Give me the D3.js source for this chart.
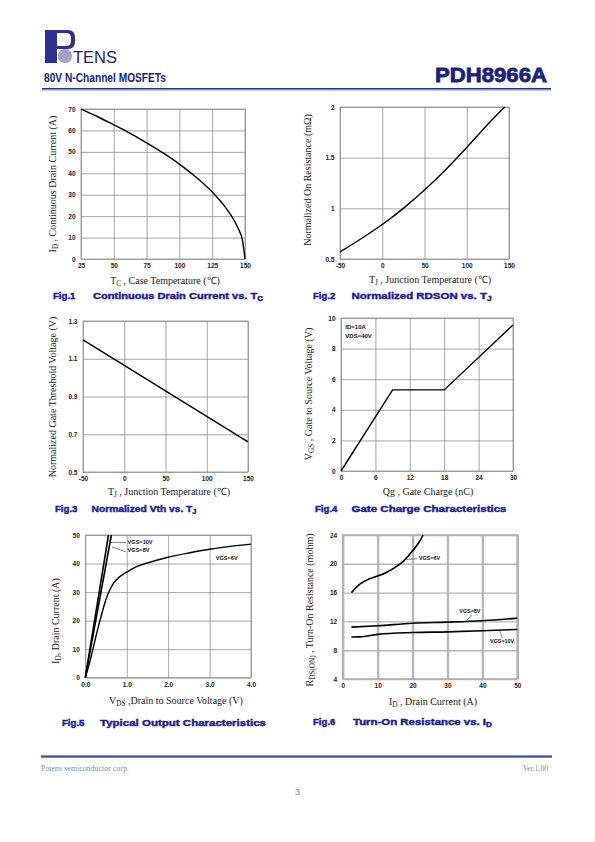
<!DOCTYPE html>
<html><head><meta charset="utf-8">
<script src="https://cdn.jsdelivr.net/npm/d3@7"></script>
<style>
html,body{margin:0;padding:0;background:#fff;}
svg{display:block;}
</style></head>
<body>
<svg id="page" width="595" height="842"></svg>
<script>
// ---------- DATA ----------
// Fig.1 Continuous Drain Current vs. Tc
const fig1Temp = [25, 37.5, 50, 62.5, 75, 87.5, 100, 112.5, 125, 135, 140, 145, 148, 150];
const fig1Id   = [70, 66.5, 62.6, 58.6, 54.2, 49.5, 44.3, 38.3, 31.3, 24.2, 19.8, 14, 8.9, 0];
const fig1XTicks = [25, 50, 75, 100, 125, 150];
const fig1YTicks = [0, 10, 20, 30, 40, 50, 60, 70];

// Fig.2 Normalized RDSON vs. Tj
const fig2Temp = [-50, -25, 0, 25, 50, 75, 100, 125, 145];
const fig2R    = [0.57, 0.70, 0.84, 1.0, 1.18, 1.38, 1.60, 1.83, 2.0];
const fig2XTicks = [-50, 0, 50, 100, 150];
const fig2YTicks = [0.5, 1, 1.5, 2];

// Fig.3 Normalized Vth vs. Tj
const fig3Temp = [-50, 0, 50, 100, 150];
const fig3Vth  = [1.2, 1.065, 0.93, 0.795, 0.66];
const fig3XTicks = [-50, 0, 50, 100, 150];
const fig3YTicks = [0.5, 0.7, 0.9, 1.1, 1.3];

// Fig.4 Gate Charge
const fig4Qg  = [0, 9, 18, 30];
const fig4Vgs = [0, 5.3, 5.3, 9.55];
const fig4XTicks = [0, 6, 12, 18, 24, 30];
const fig4YTicks = [0, 2, 4, 6, 8, 10];
const fig4Notes = ["ID=10A", "VDS=40V"];

// Fig.5 Typical Output Characteristics
const fig5Vds6  = [0, 0.1, 0.2, 0.3, 0.4, 0.5, 0.6, 0.7, 0.8, 1.0, 1.25, 1.5, 2.0, 2.5, 3.0, 3.5, 4.0];
const fig5Id6   = [0, 5, 11, 17, 22.5, 27.5, 31, 33.5, 35, 37, 39, 40.2, 42.2, 43.7, 45, 46, 46.8];
const fig5Vds8  = [0, 0.63];
const fig5Id8   = [0, 50];
const fig5Vds10 = [0, 0.56];
const fig5Id10  = [0, 50];
const fig5XTicks = [0, 1, 2, 3, 4];
const fig5YTicks = [0, 10, 20, 30, 40, 50];

// Fig.6 Turn-On Resistance vs. ID
const fig6Id6  = [2.5, 5, 7.5, 10, 12.5, 15, 17.5, 20, 22, 23];
const fig6R6   = [16, 17.2, 17.9, 18.3, 18.8, 19.5, 20.4, 21.8, 23.1, 24];
const fig6Id8  = [2.5, 10, 20, 30, 40, 50];
const fig6R8   = [11.2, 11.4, 11.75, 11.9, 12.1, 12.45];
const fig6Id10 = [2.5, 5, 10, 20, 30, 40, 50];
const fig6R10  = [9.83, 9.85, 10.2, 10.45, 10.55, 10.7, 10.88];
const fig6XTicks = [0, 10, 20, 30, 40, 50];
const fig6YTicks = [4, 8, 12, 16, 20, 24];

// ---------- DRAWING ----------
const svg = d3.select("#page");
svg.append("rect").attr("width", 595).attr("height", 842).attr("fill", "#fff");

const NAVY = "#1b1f7e";
const CAP = "#1a1a9c";
const SERIF = "'Liberation Serif','Times New Roman',serif";
const SANS = "'Liberation Sans',Arial,sans-serif";

// Header
const logo = svg.append("g");
logo.append("rect").attr("x", 45).attr("y", 30).attr("width", 12).attr("height", 33).attr("fill", "#2e3192");
logo.append("path").attr("d", "M57,30 H68 Q75,30 75,38 V41 Q75,49 68,49 H57 V46 H66 Q71,46 71,41 V38 Q71,33 66,33 H57 Z").attr("fill", "#2e3192");
logo.append("circle").attr("cx", 65).attr("cy", 56).attr("r", 7).attr("fill", "#6a6aa0");
for (let i = -6; i <= 6; i += 2) {
  const h = Math.sqrt(49 - i * i);
  logo.append("line").attr("x1", 65 + i).attr("x2", 65 + i).attr("y1", 56 - h).attr("y2", 56 + h).attr("stroke", "#d8d8e8").attr("stroke-width", 0.6);
  logo.append("line").attr("y1", 56 + i).attr("y2", 56 + i).attr("x1", 65 - h).attr("x2", 65 + h).attr("stroke", "#d8d8e8").attr("stroke-width", 0.6);
}
logo.append("text").attr("x", 73).attr("y", 63).attr("font-family", SANS).attr("font-size", 17)
  .attr("fill", "#1d1d6e").attr("textLength", 44).attr("lengthAdjust", "spacingAndGlyphs").text("TENS");

svg.append("text").attr("x", 44).attr("y", 81.5).attr("font-family", SANS).attr("font-weight", "bold")
  .attr("font-size", 12.5).attr("fill", NAVY).attr("textLength", 122).attr("lengthAdjust", "spacingAndGlyphs")
  .text("80V N-Channel MOSFETs");
svg.append("text").attr("x", 435).attr("y", 82.3).attr("font-family", SANS).attr("font-weight", "900")
  .attr("font-size", 20).attr("fill", NAVY).attr("stroke", NAVY).attr("stroke-width", 0.8)
  .attr("textLength", 112).attr("lengthAdjust", "spacingAndGlyphs").text("PDH8966A");
svg.append("rect").attr("x", 42).attr("y", 88).attr("width", 509).attr("height", 1.4).attr("fill", "#1f2f8f");
svg.append("rect").attr("x", 42).attr("y", 89.4).attr("width", 509).attr("height", 1).attr("fill", "#6d7fc4");

// Footer
svg.append("rect").attr("x", 41).attr("y", 755.5).attr("width", 511).attr("height", 1.4).attr("fill", "#1f2f8f");
svg.append("rect").attr("x", 41).attr("y", 756.9).attr("width", 511).attr("height", 1).attr("fill", "#6d7fc4");
svg.append("text").attr("x", 41).attr("y", 771).attr("font-family", SERIF).attr("font-size", 7.6).attr("fill", "#888")
  .attr("textLength", 88).attr("lengthAdjust", "spacing").text("Potens semiconductor corp.");
svg.append("text").attr("x", 548).attr("y", 771).attr("text-anchor", "end").attr("font-family", SERIF).attr("font-size", 7.6).attr("fill", "#888").text("Ver.1.00");
svg.append("text").attr("x", 297.5).attr("y", 795).attr("text-anchor", "middle").attr("font-family", SANS).attr("font-size", 9).attr("fill", "#888").text("3");

function addText(sel, parts, size) {
  // parts: [text, isSub]
  let shift = 0;
  parts.forEach(p => {
    const t = sel.append("tspan").text(p[0]);
    if (p[1]) { t.attr("font-size", size * 0.72).attr("dy", 2 - shift); shift = 2; }
    else { t.attr("dy", -shift); shift = 0; }
  });
}

function chart(o) {
  const g = svg.append("g");
  const x = d3.scaleLinear().domain(o.xDomain).range([o.x0, o.x1]);
  const y = d3.scaleLinear().domain(o.yDomain).range([o.y1, o.y0]);
  const gw = o.gridWidth || 0.8, gc = o.gridColor || "#8f8f8f";
  const vgw = o.vGridWidth || gw, vgc = o.vGridColor || gc;

  const xa = g.append("g").attr("transform", `translate(0,${o.y1})`)
    .call(d3.axisBottom(x).tickValues(o.xTicks).tickSize(-(o.y1 - o.y0)).tickPadding(4.3).tickFormat(o.xFmt || (d => d)));
  xa.select(".domain").remove();
  xa.selectAll("line").attr("stroke", vgc).attr("stroke-width", vgw);
  xa.selectAll("text").attr("font-family", SANS).attr("font-weight", "bold").attr("font-size", 6.5).attr("fill", "#222");

  const ya = g.append("g").attr("transform", `translate(${o.x0},0)`)
    .call(d3.axisLeft(y).tickValues(o.yTicks).tickSize(-(o.x1 - o.x0)).tickPadding(5.5).tickFormat(o.yFmt || (d => d)));
  ya.select(".domain").remove();
  ya.selectAll("line").attr("stroke", gc).attr("stroke-width", gw);
  ya.selectAll("text").attr("font-family", SANS).attr("font-weight", "bold").attr("font-size", 6.5).attr("fill", "#222");

  g.append("rect").attr("x", o.x0).attr("y", o.y0).attr("width", o.x1 - o.x0).attr("height", o.y1 - o.y0)
    .attr("fill", "none").attr("stroke", o.borderColor || gc).attr("stroke-width", o.borderWidth || gw);

  const clipId = "clip" + Math.round(o.x0) + "_" + Math.round(o.y0);
  svg.append("clipPath").attr("id", clipId).append("rect")
    .attr("x", o.x0 - 1).attr("y", o.y0 - 0.5).attr("width", o.x1 - o.x0 + 2).attr("height", o.y1 - o.y0 + 1);

  o.series.forEach(s => {
    const pts = s.x.map((v, i) => [v, s.y[i]]);
    const line = d3.line().x(d => x(d[0])).y(d => y(d[1])).curve(s.smooth ? d3.curveMonotoneX : d3.curveLinear);
    g.append("path").attr("d", line(pts)).attr("fill", "none").attr("stroke", "#000")
      .attr("stroke-width", s.width || 1.4).attr("clip-path", `url(#${clipId})`);
  });

  (o.notes || []).forEach(n => {
    g.append("text").attr("x", x(n.x)).attr("y", y(n.y)).attr("font-family", SANS).attr("font-weight", "bold")
      .attr("font-size", n.size || 6).attr("fill", "#111").text(n.t);
  });
  (o.leaders || []).forEach(l => {
    g.append("line").attr("x1", x(l[0])).attr("y1", y(l[1])).attr("x2", x(l[2])).attr("y2", y(l[3]))
      .attr("stroke", "#333").attr("stroke-width", 0.6);
  });

  // axis titles
  const xt = g.append("text").attr("x", o.xTitle.x).attr("y", o.xTitle.y).attr("text-anchor", "middle")
    .attr("font-family", SERIF).attr("font-size", 10).attr("fill", "#222");
  addText(xt, o.xTitle.parts, 10);
  const yt = g.append("text").attr("transform", `translate(${o.yTitle.x},${o.yTitle.y}) rotate(-90)`).attr("text-anchor", "middle")
    .attr("font-family", SERIF).attr("font-size", 10).attr("fill", "#222");
  addText(yt, o.yTitle.parts, 10);

  // caption
  const c = o.caption;
  g.append("text").attr("x", c.x1).attr("y", c.y).attr("font-family", SANS).attr("font-weight", "900").attr("font-size", 9.6)
    .attr("fill", CAP).attr("stroke", CAP).attr("stroke-width", 0.45).text(c.fig);
  const ct = g.append("text").attr("x", c.x2).attr("y", c.y).attr("font-family", SANS).attr("font-weight", "900").attr("font-size", 9.6)
    .attr("fill", CAP).attr("stroke", CAP).attr("stroke-width", 0.45);
  if (c.len) ct.attr("textLength", c.len).attr("lengthAdjust", "spacingAndGlyphs");
  addText(ct, c.parts, 9.6);
}

// Fig.1
chart({
  x0: 81, x1: 245, y0: 109, y1: 259, xDomain: [25, 150], yDomain: [0, 70],
  xTicks: fig1XTicks, yTicks: fig1YTicks,
  series: [{ x: fig1Temp, y: fig1Id, smooth: true }],
  xTitle: { x: 165, y: 284, parts: [["T"], ["C", 1], [" , Case Temperature (\u2103)"]] },
  yTitle: { x: 56, y: 184, parts: [["I"], ["D", 1], [" , Continuous Drain Current (A)"]] },
  caption: { fig: "Fig.1", x1: 53, x2: 93, y: 299, len: 170, parts: [["Continuous Drain Current vs. T"], ["C", 1]] }
});

// Fig.2
chart({
  x0: 340, x1: 509, y0: 107, y1: 259, xDomain: [-50, 150], yDomain: [0.5, 2],
  xTicks: fig2XTicks, yTicks: fig2YTicks,
  series: [{ x: fig2Temp, y: fig2R, smooth: true }],
  xTitle: { x: 430, y: 283, parts: [["T"], ["J", 1], [" , Junction Temperature (\u2103)"]] },
  yTitle: { x: 311, y: 180, parts: [["Normalized On Resistance (m\u03A9)"]] },
  caption: { fig: "Fig.2", x1: 313, x2: 351.5, y: 299, len: 140, parts: [["Normalized RDSON vs. T"], ["J", 1]] }
});

// Fig.3
chart({
  x0: 83, x1: 248, y0: 321, y1: 472, xDomain: [-50, 150], yDomain: [0.5, 1.3],
  xTicks: fig3XTicks, yTicks: fig3YTicks, yFmt: d3.format(".1f"),
  series: [{ x: fig3Temp, y: fig3Vth }],
  xTitle: { x: 169, y: 495, parts: [["T"], ["J", 1], [" , Junction Temperature (\u2103)"]] },
  yTitle: { x: 56, y: 397, parts: [["Normalized Gate Threshold Voltage (V)"]] },
  caption: { fig: "Fig.3", x1: 55, x2: 91.5, y: 511.5, len: 105, parts: [["Normalized Vth vs. T"], ["J", 1]] }
});

// Fig.4
chart({
  x0: 341, x1: 513, y0: 318, y1: 471, xDomain: [0, 30], yDomain: [0, 10],
  xTicks: fig4XTicks, yTicks: fig4YTicks,
  series: [{ x: fig4Qg, y: fig4Vgs }],
  notes: [{ x: 0.75, y: 9.26, t: fig4Notes[0] }, { x: 0.75, y: 8.67, t: fig4Notes[1] }],
  xTitle: { x: 428, y: 495, parts: [["Qg , Gate Charge (nC)"]] },
  yTitle: { x: 312, y: 394, parts: [["V"], ["GS", 1], [" , Gate to Source Voltage (V)"]] },
  caption: { fig: "Fig.4", x1: 315, x2: 351.5, y: 511.5, len: 155, parts: [["Gate Charge Characteristics"]] }
});

// Fig.5
chart({
  x0: 85.3, x1: 251, y0: 535, y1: 677.7, xDomain: [0, 4], yDomain: [0, 50],
  xTicks: fig5XTicks, yTicks: fig5YTicks, xFmt: d3.format(".1f"),
  series: [
    { x: fig5Vds6, y: fig5Id6, smooth: true },
    { x: fig5Vds8, y: fig5Id8, width: 1.6 },
    { x: fig5Vds10, y: fig5Id10, width: 1.6 }
  ],
  notes: [
    { x: 1.02, y: 46.9, t: "VGS=10V", size: 5.6 },
    { x: 1.02, y: 43.9, t: "VGS=8V", size: 5.6 },
    { x: 3.15, y: 41.3, t: "VGS=6V", size: 5.6 }
  ],
  leaders: [[0.62, 47.4, 0.98, 47.4], [0.64, 45.8, 0.98, 44.1]],
  xTitle: { x: 176, y: 704, parts: [["V"], ["DS", 1], [" ,Drain to Source Voltage (V)"]] },
  yTitle: { x: 59, y: 621, parts: [["I"], ["D", 1], [", Drain Current (A)"]] },
  caption: { fig: "Fig.5", x1: 62, x2: 100, y: 726, len: 166, parts: [["Typical Output Characteristics"]] }
});

// Fig.6
chart({
  x0: 342.7, x1: 517.3, y0: 535, y1: 679, xDomain: [0, 50], yDomain: [4, 24],
  xTicks: fig6XTicks, yTicks: fig6YTicks,
  gridColor: "#b5b5b5", gridWidth: 1.4, vGridColor: "#b8b8b8", vGridWidth: 2.4, borderColor: "#b0b0b0", borderWidth: 1.6,
  series: [
    { x: fig6Id6, y: fig6R6, smooth: true, width: 1.6 },
    { x: fig6Id8, y: fig6R8, smooth: true, width: 1.6 },
    { x: fig6Id10, y: fig6R10, smooth: true, width: 1.6 }
  ],
  notes: [
    { x: 21.85, y: 20.57, t: "VGS=6V", size: 5.4 },
    { x: 33.4, y: 13.1, t: "VGS=8V", size: 5.4 },
    { x: 42.2, y: 9.0, t: "VGS=10V", size: 5.4 }
  ],
  leaders: [[18.3, 20.6, 21.4, 20.7], [35.5, 12.1, 36.9, 12.9], [45.0, 10.67, 45.7, 9.65]],
  xTitle: { x: 433, y: 705, parts: [["I"], ["D", 1], [" , Drain Current (A)"]] },
  yTitle: { x: 313, y: 610, parts: [["R"], ["DS(ON)", 1], [" , Turn-On Resistance (mohm)"]] },
  caption: { fig: "Fig.6", x1: 313, x2: 353, y: 725, len: 139, parts: [["Turn-On Resistance vs. I"], ["D", 1]] }
});
</script>
</body></html>
